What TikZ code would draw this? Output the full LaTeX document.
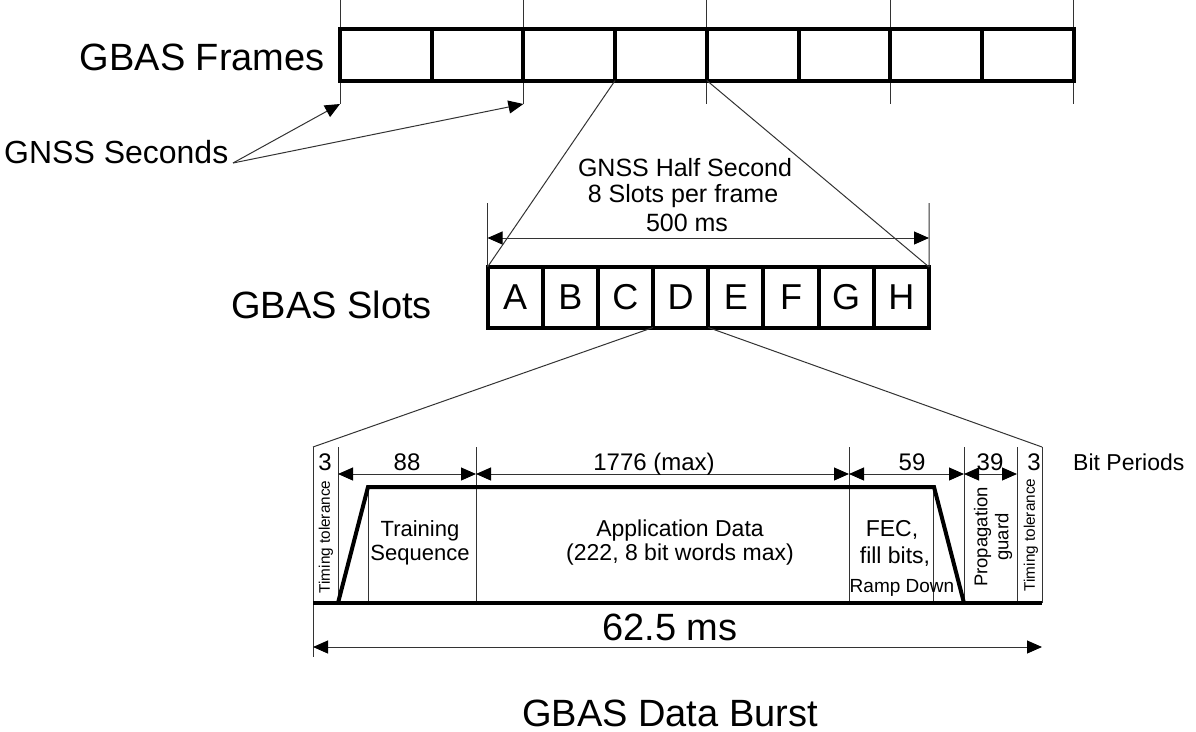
\documentclass[tikz,border=0pt]{standalone}
\usepackage{fontspec}
\setmainfont{Liberation Sans}
\usetikzlibrary{arrows.meta}
\newcommand\fsz[2]{\fontsize{#1}{#2}\selectfont}

\begin{document}
\begin{tikzpicture}[x=1pt,y=-1pt,
  thinline/.style={line width=1pt, black!80},
  thickline/.style={line width=4pt, black},
  framebox/.style={draw, line width=4pt, minimum width=91.7pt, minimum height=51.8pt,
                   inner sep=0pt, outer sep=0pt},
  slotbox/.style={draw, line width=4pt, minimum width=55.19pt, minimum height=60.5pt,
                  inner sep=0pt, outer sep=0pt, font=\fsz{36}{40}},
  dimarrow/.style={thinline, {Triangle[length=15pt,width=13pt,color=black]}-{Triangle[length=15pt,width=13pt,color=black]}},
  ptrarrow/.style={thinline, -{Triangle[length=15pt,width=13pt,color=black]}},
  lbl/.style={inner sep=0pt, anchor=base},
  big/.style={font=\fsz{38}{44}},
  mid/.style={font=\fsz{25}{28}},
  small/.style={font=\fsz{23}{26}},
  rotlbl/.style={inner sep=0pt, rotate=90, align=center}
]
\useasboundingbox (0,0) rectangle (1196,731);

% ---------- GBAS frames ----------
\foreach \i/\x in {0/340,1/523.4,2/706.8,3/890.2,4/1073.6} {
  \coordinate (tk\i a) at (\x,0);
  \coordinate (tk\i b) at (\x,104);
  \draw[thinline] (tk\i a) -- (tk\i b);
}
\foreach \i in {1,...,8}
  \node[framebox] (f\i) at ({340+91.7*(\i-0.5)},54.6) {};

\node[lbl, big, anchor=base east] (frameslbl) at (325,70) {GBAS Frames};

% one-second marks
\node[lbl, font=\fsz{32}{36}, anchor=base west] (seclbl) at (4,163) {GNSS Seconds};
\coordinate (gsrc) at (233,163);
\draw[ptrarrow] (gsrc) -- (tk0b);
\draw[ptrarrow] (gsrc) -- (tk1b);

% ---------- GBAS slots ----------
\foreach \l [count=\i] in {A,B,C,D,E,F,G,H}
  \node[slotbox] (s\i) at ({487.5+55.19*(\i-0.5)},297.25) {\l};

\node[lbl, big, anchor=base east] (slotslbl) at (432,318) {GBAS Slots};

% expansion of one frame into its slots
\draw[thinline] (f4.south west) -- (s1.north west);
\draw[thinline] (f4.south east) -- (s8.north east);

% 500 ms dimension
\coordinate (hsL) at (487.5,203);
\coordinate (hsR) at (929,203);
\coordinate (hsLa) at (487.5,238);
\coordinate (hsRa) at (929,238);
\draw[thinline] (s1.north west) -- (hsL);
\draw[thinline] (s8.north east) -- (hsR);
\draw[dimarrow] (hsLa) -- (hsRa);
\node[lbl, mid] (hs1) at (685,176.7) {GNSS Half Second};
\node[lbl, mid] (hs2) at (683,202) {8 Slots per frame};
\node[lbl, mid] (hs3) at (687,231.7) {500 ms};

% ---------- GBAS data burst ----------
\coordinate (bTL) at (313,447);
\coordinate (bBL) at (313,657);
\coordinate (bTR) at (1042,447);
\coordinate (bBR) at (1042,603);
\draw[thinline] (s4.south west) -- (bTL);
\draw[thinline] (s4.south east) -- (bTR);
\draw[thinline] (bTL) -- (bBL);
\draw[thinline] (bTR) -- (bBR);

% section boundaries
\foreach \x/\t in {338/447, 368/487, 476/447, 849/447, 933/487, 964/447, 1017/447}
  \draw[thinline] (\x,\t) -- (\x,603);

% burst envelope
\draw[thickline] (313,603) -- (1042,603);
\draw[thickline] (338,603) -- (368,487) -- (934,487) -- (964,603);

% bit-period dimensions
\coordinate (p0) at (338,474);
\coordinate (p1) at (476,474);
\coordinate (p2) at (849,474);
\coordinate (p3) at (964,474);
\coordinate (p4) at (1017,474);
\draw[dimarrow] (p0) -- (p1);
\draw[dimarrow] (p1) -- (p2);
\draw[dimarrow] (p2) -- (p3);
\draw[dimarrow] (p3) -- (p4);

\node[lbl, font=\fsz{24}{28}] (n3a) at (325,470) {3};
\node[lbl, font=\fsz{24}{28}] (n88) at (407,470) {88};
\node[lbl, font=\fsz{24}{28}] (n1776) at (654,470) {1776 (max)};
\node[lbl, font=\fsz{24}{28}] (n59) at (912,470) {59};
\node[lbl, font=\fsz{24}{28}] (n39) at (990,470) {39};
\node[lbl, font=\fsz{24}{28}] (n3b) at (1034,470) {3};
\node[lbl, small, anchor=base west] (bitp) at (1073,470) {Bit Periods};

% section contents
\node[rotlbl, font=\fsz{15.3}{18}] (ttl) at (326,537) {Timing tolerance};
\node[lbl, font=\fsz{22}{26}] (tr1) at (420,536.7) {Training};
\node[lbl, font=\fsz{22}{26}] (tr2) at (420,560) {Sequence};
\node[lbl, small] (ap1) at (680,536.7) {Application Data};
\node[lbl, small] (ap2) at (680,560) {(222, 8 bit words max)};
\node[lbl, small] (fe1) at (892,536) {FEC,};
\node[lbl, small] (fe2) at (895,563) {fill bits,};
\node[lbl, font=\fsz{19}{22}] (fe3) at (902,592) {Ramp Down};
\node[rotlbl, font=\fsz{18.5}{21}] (prop) at (993,537) {Propagation\\guard};
\node[rotlbl, font=\fsz{15.3}{18}] (ttr) at (1031,535) {Timing tolerance};

% burst length
\coordinate (bl0) at (313,647);
\coordinate (bl1) at (1042,647);
\draw[dimarrow] (bl0) -- (bl1);
\node[lbl, big] (burstlen) at (670,640) {62.5 ms};

\node[lbl, big] (burstlbl) at (670,726) {GBAS Data Burst};
\end{tikzpicture}
\end{document}
